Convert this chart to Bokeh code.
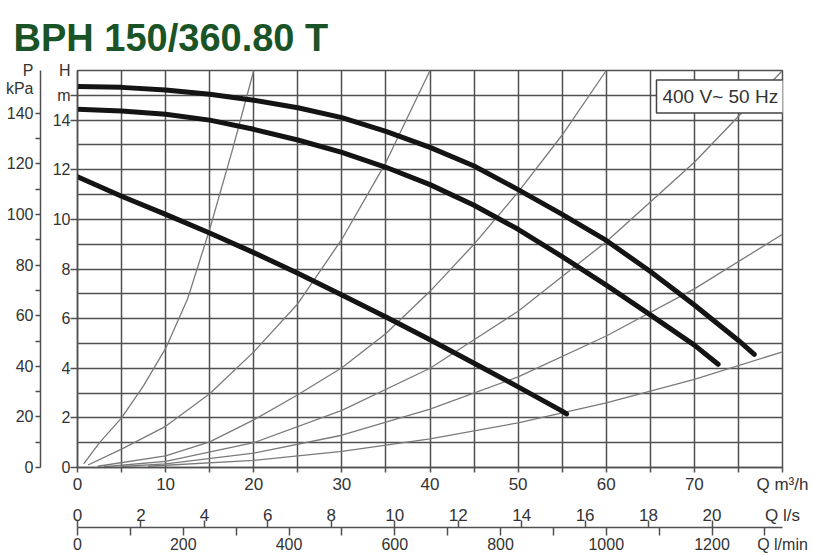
from bokeh.plotting import figure
from bokeh.models import Range1d, LinearAxis, FixedTicker, Label
from bokeh.embed import file_html
from bokeh.resources import INLINE

# ---------------- data ----------------
TITLE = "BPH 150/360.80 T"
SUPPLY = "400 V~ 50 Hz"

Q_MAX = 80.0          # m3/h
H_MAX = 16.0          # m
KPA_PER_M = 9.81
LS_PER_M3H = 1 / 3.6
LMIN_PER_M3H = 1000 / 60

# pump curves (Q m3/h, H m)
pump1_q = [0, 5, 10, 15, 20, 25, 30, 35, 40, 45, 50, 55, 60, 65, 70, 75, 76.8]
pump1_h = [15.36, 15.32, 15.21, 15.04, 14.8, 14.5, 14.1, 13.55, 12.9, 12.15,
           11.2, 10.2, 9.15, 7.9, 6.55, 5.12, 4.56]
pump2_q = [0, 5, 10, 15, 20, 25, 30, 35, 40, 45, 50, 55, 60, 65, 70, 72.7]
pump2_h = [14.44, 14.37, 14.24, 14.0, 13.63, 13.2, 12.7, 12.1, 11.4, 10.57,
           9.6, 8.5, 7.35, 6.15, 4.93, 4.16]
pump3_q = [0, 5, 10, 15, 20, 25, 30, 35, 40, 45, 50, 55, 55.5]
pump3_h = [11.72, 10.93, 10.2, 9.45, 8.66, 7.83, 6.95, 6.07, 5.15, 4.2, 3.25, 2.27, 2.16]

# system (pipe) curves
sysA_q = [0.7, 2.5, 5, 7.5, 10, 12.5, 15, 17.5, 20]
sysA_h = [0.15, 1.0, 2.0, 3.3, 4.8, 6.8, 9.6, 12.7, 16.0]
sysB_q = [1.2, 5, 10, 15, 20, 25, 30, 35, 40]
sysB_h = [0.1, 0.74, 1.66, 2.97, 4.66, 6.6, 9.2, 12.3, 16.0]
sysC_q = [2.3, 10, 15, 20, 25, 30, 35, 40, 45, 50, 55, 60]
sysC_h = [0.05, 0.47, 1.03, 1.92, 2.93, 4.02, 5.4, 7.1, 9.0, 11.1, 13.4, 16.0]
sysD_q = [3, 10, 20, 30, 40, 50, 60, 70, 80]
sysD_h = [0.03, 0.25, 1.0, 2.3, 4.0, 6.3, 9.1, 12.3, 16.0]
sysE_q = [5, 10, 20, 30, 40, 50, 60, 70, 80]
sysE_h = [0.04, 0.15, 0.58, 1.3, 2.35, 3.65, 5.3, 7.2, 9.4]
sysF_q = [8, 20, 30, 40, 50, 60, 70, 80]
sysF_h = [0.05, 0.29, 0.65, 1.15, 1.8, 2.6, 3.55, 4.66]

# ticks / tick labels
q_major = list(range(0, 90, 10))
q_minor = list(range(5, 80, 10))
q_labels = {80: "Q m³/h"}
h_major = list(range(0, 16, 2)) + [15, 16]
h_tickmarks = list(range(0, 16, 2)) + [15]
h_labels = {15: "m", 16: "H"}
P_TOP = round(H_MAX * KPA_PER_M, 2)
p_major = list(range(0, 160, 20)) + [150, P_TOP]
p_tickmarks = list(range(0, 150, 10))
p_labels = {150: "kPa", P_TOP: "P"}
LS_END = round(Q_MAX * LS_PER_M3H, 2)
ls_major = list(range(0, 22, 2)) + [LS_END]
ls_labels = {LS_END: "Q l/s"}
ls_tickmarks = list(range(0, 22, 2))
LMIN_END = round(Q_MAX * LMIN_PER_M3H, 2)
lmin_major = list(range(0, 1400, 200)) + [LMIN_END]
lmin_labels = {LMIN_END: "Q l/min"}
lmin_tickmarks = list(range(0, 1400, 100))

# ---------------- styles ----------------
GRID = "#505050"
TXT = "#333333"
FONT = "Liberation Sans"

p = figure(width=814, height=555, x_range=Range1d(0, Q_MAX), y_range=Range1d(0, H_MAX),
           output_backend="svg", toolbar_location=None,
           min_border_left=77, min_border_right=32, min_border_top=70, min_border_bottom=88)
p.background_fill_color = "white"
p.border_fill_color = "white"
p.outline_line_color = GRID
p.outline_line_width = 1.5

p.title.text = TITLE
p.title.text_font = FONT
p.title.text_font_style = "bold"
p.title.text_font_size = "38px"
p.title.text_color = "#1a5426"
p.title.align = "left"
p.title.offset = -64
p.title.standoff = 24

p.xgrid.ticker = FixedTicker(ticks=list(range(0, 85, 5)))
p.ygrid.ticker = FixedTicker(ticks=list(range(0, 17)))
for g in (p.xgrid, p.ygrid):
    g.grid_line_color = GRID
    g.grid_line_width = 1.5

xa = p.xaxis[0]
xa.ticker = FixedTicker(ticks=q_major, minor_ticks=q_minor)
xa.major_label_overrides = q_labels
xa.major_tick_out = 5
xa.minor_tick_out = 5
xa.major_label_standoff = 2

ya = p.yaxis[0]
ya.ticker = FixedTicker(ticks=h_major, minor_ticks=h_tickmarks)
ya.major_label_overrides = h_labels
ya.major_tick_out = 0
ya.minor_tick_out = 7
ya.major_label_standoff = 0
ya.axis_label = " "
ya.axis_label_standoff = 0
ya.axis_label_text_font_size = "5px"

# pressure axis
p.extra_y_ranges = {"kpa": Range1d(0, P_TOP)}
pa = LinearAxis(y_range_name="kpa", ticker=FixedTicker(ticks=p_major, minor_ticks=p_tickmarks),
                major_label_overrides=p_labels,
                major_tick_out=0, minor_tick_out=5, major_label_standoff=2)
p.add_layout(pa, "left")

# flow rulers
p.extra_x_ranges = {"ls": Range1d(0, Q_MAX * LS_PER_M3H),
                    "lmin": Range1d(0, Q_MAX * LMIN_PER_M3H)}
ls_lab = LinearAxis(x_range_name="ls", ticker=FixedTicker(ticks=ls_major, minor_ticks=[]),
                    major_label_overrides=ls_labels, axis_line_color=None,
                    major_tick_out=0, major_label_standoff=9)
p.add_layout(ls_lab, "below")
ruler = LinearAxis(x_range_name="ls",
                   ticker=FixedTicker(ticks=ls_tickmarks,
                                      minor_ticks=[t / LMIN_PER_M3H * LS_PER_M3H for t in lmin_tickmarks]),
                   major_tick_out=0, major_tick_in=7, minor_tick_out=8, minor_tick_in=0,
                   major_label_standoff=0)
p.add_layout(ruler, "below")
lmin_lab = LinearAxis(x_range_name="lmin", ticker=FixedTicker(ticks=lmin_major, minor_ticks=[]),
                      major_label_overrides=lmin_labels, axis_line_color=None,
                      major_tick_out=0, major_label_standoff=0)
p.add_layout(lmin_lab, "below")

for ax in (xa, ya, pa, ls_lab, ruler, lmin_lab):
    ax.axis_line_width = 1.5
    ax.major_tick_line_color = GRID
    ax.major_tick_line_width = 1.5
    ax.minor_tick_line_color = GRID
    ax.minor_tick_line_width = 1.5
    ax.major_tick_in = ax.major_tick_in if ax is ruler else 0
    ax.minor_tick_in = 0
    ax.major_label_text_font = FONT
    ax.major_label_text_color = TXT
    ax.major_label_text_font_size = "16px"
for ax in (xa, ya, pa, ruler):
    ax.axis_line_color = GRID
xa.major_label_text_font_size = "17px"
ls_lab.major_label_text_font_size = "17px"
ruler.major_label_text_color = None
ruler.major_label_text_font_size = "10px"

# system curves
for qs, hs in ((sysA_q, sysA_h), (sysB_q, sysB_h), (sysC_q, sysC_h),
               (sysD_q, sysD_h), (sysE_q, sysE_h), (sysF_q, sysF_h)):
    p.line(qs, hs, line_color="#7a7a7a", line_width=1.3)

# pump curves
for qs, hs in ((pump1_q, pump1_h), (pump2_q, pump2_h), (pump3_q, pump3_h)):
    p.line(qs, hs, line_color="#141414", line_width=5, line_cap="round", line_join="round")

# supply box
p.add_layout(Label(x=65.7, y=14.95, text=SUPPLY, text_font=FONT, text_font_size="19px",
                   text_align="left", text_baseline="middle", text_color=TXT,
                   background_fill_color="white", border_line_color="#444444",
                   border_line_width=1.5, padding=6))

open("out.html", "w").write(file_html(p, INLINE))
